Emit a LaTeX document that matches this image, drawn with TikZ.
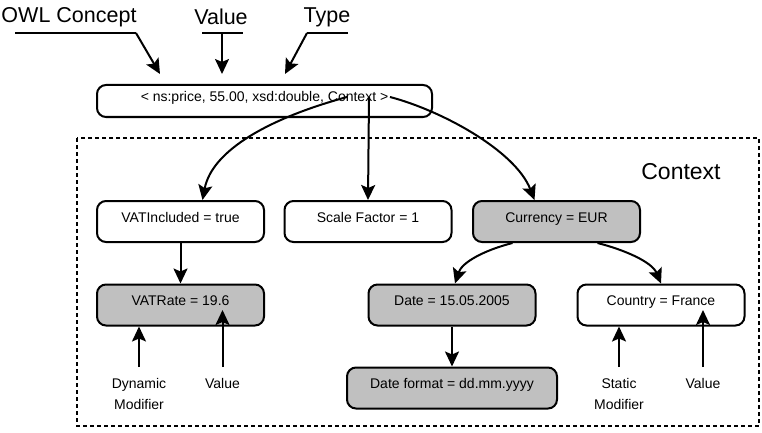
\documentclass[tikz,border=0pt]{standalone}
\usepackage{fontspec}
\setmainfont{Liberation Sans}
\usetikzlibrary{arrows.meta}
\definecolor{boxgray}{RGB}{192,192,192}
\begin{document}
\begin{tikzpicture}[x=1pt,y=-1pt,
  every node/.style={font=\fontsize{14}{16}\selectfont},
  box/.style={draw,line width=2pt,rounded corners=9pt,minimum width=167pt,
    minimum height=41pt,text height=8pt,text depth=7pt,inner sep=0pt},
  shaded/.style={box,fill=boxgray},
  link/.style={line width=2pt,-{Stealth[length=15pt,width=14pt,inset=3pt]}},
  lead/.style={line width=2pt},
  biglabel/.style={font=\fontsize{21.5}{24}\selectfont},
  note/.style={align=center,anchor=north,inner xsep=2pt,inner ysep=11pt,
    font=\fontsize{14}{21}\selectfont},
  frame/.style={draw,line width=1.5pt,dash pattern=on 4pt off 3pt}
]
\useasboundingbox (0,0) rectangle (762,433);

% context frame
\draw[frame] (77,138) rectangle (759,426);
\node[font=\fontsize{23}{26}\selectfont] (ctxlabel) at (681,172) {Context};

% tuple and its annotations
\node[box,minimum width=335pt,minimum height=32pt] (tuple) at (264.5,101)
  {< ns:price, 55.00, xsd:double, Context >};
\node[biglabel] (owl) at (69,17) {OWL Concept};
\node[biglabel] (val) at (221,17) {Value};
\node[biglabel] (typ) at (327,17) {Type};

\coordinate (owlL) at (15,33);
\coordinate (owlR) at (136,33);
\coordinate (valL) at (202,33);
\coordinate (valR) at (243,33);
\coordinate (valM) at (222,33);
\coordinate (typL) at (307,33);
\coordinate (typR) at (348,33);
\coordinate (owlTip) at ([xshift=-104.5pt,yshift=10pt]tuple.north);
\coordinate (valTip) at ([xshift=-42.5pt,yshift=10pt]tuple.north);
\coordinate (typTip) at ([xshift=20.5pt,yshift=10pt]tuple.north);

\draw[lead] (owlL) -- (owlR);
\draw[link] (owlR) -- (owlTip);
\draw[lead] (valL) -- (valR);
\draw[link] (valM) -- (valTip);
\draw[lead] (typR) -- (typL);
\draw[link] (typL) -- (typTip);

% context entries
\node[box] (vatinc) at (180.5,221.5) {VATIncluded = true};
\node[box] (scale) at (368,221.5) {Scale Factor = 1};
\node[shaded] (cur) at (556.5,221.5) {Currency = EUR};
\node[shaded] (vatrate) at (180.5,305) {VATRate = 19.6};
\node[shaded] (date) at (452,305) {Date = 15.05.2005};
\node[box] (country) at (661,305) {Country = France};
\node[shaded,minimum width=210pt] (dfmt) at (452,388) {Date format = dd.mm.yyyy};

% links out of the tuple
\coordinate (t1) at ([xshift=82.5pt,yshift=4pt]tuple.center);
\coordinate (t2) at ([xshift=104.5pt,yshift=4pt]tuple.center);
\coordinate (t3) at ([xshift=125.5pt,yshift=4pt]tuple.center);
\draw[link] (t1) .. controls (270,118) and (212,150) .. ([xshift=22pt]vatinc.north);
\draw[link] (t2) -- (scale.north);
\draw[link] (t3) .. controls (440,110) and (515,150) .. ([xshift=-22pt]cur.north);

% links inside the context
\draw[link] (vatinc) -- (vatrate);
\draw[link] (date) -- (dfmt);
\draw[link] ([xshift=-44pt]cur.south) .. controls (485,250) and (462,262) .. ([xshift=3pt]date.north);
\draw[link] ([xshift=41pt]cur.south) .. controls (625,250) and (652,262) .. (country.north);

% modifier annotations
\node[note] (dyn) at (139,367) {Dynamic\\Modifier};
\node[note] (v1) at (222.5,367) {Value};
\node[note] (stat) at (619,367) {Static\\Modifier};
\node[note] (v2) at (703,367) {Value};
\coordinate (vr) at ([yshift=-5pt]vatrate.center);
\coordinate (cr) at ([yshift=-5pt]country.center);
\draw[link] (dyn.north) -- (dyn.north |- vatrate.south);
\draw[link] (v1.north) -- (v1.north |- vr);
\draw[link] (stat.north) -- (stat.north |- country.south);
\draw[link] (v2.north) -- (v2.north |- cr);
\end{tikzpicture}
\end{document}
